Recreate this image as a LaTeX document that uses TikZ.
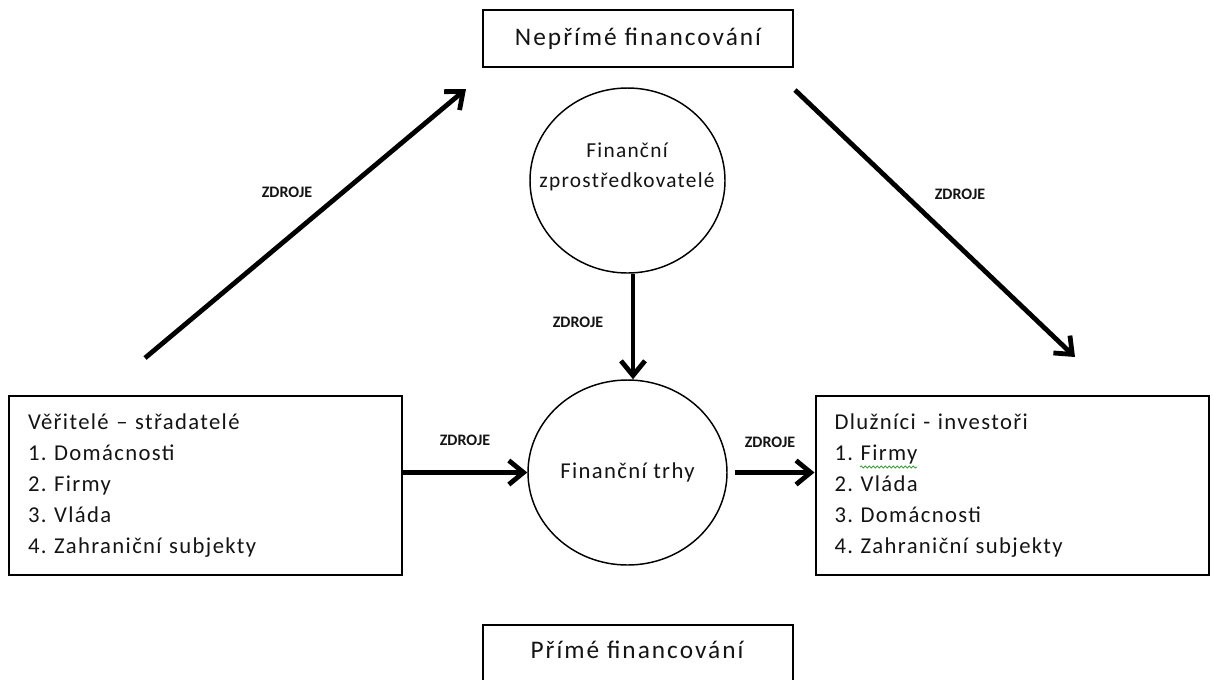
\documentclass[tikz,border=0pt]{standalone}
\usepackage{fontspec}
\setmainfont{Carlito}
\newfontfamily\titlefont[LetterSpace=8]{Carlito}
\newfontfamily\bodyfont[LetterSpace=6]{Carlito}
\usetikzlibrary{arrows.meta,shapes.geometric,decorations.pathmorphing}
\definecolor{txt}{HTML}{141414}
\definecolor{spell}{HTML}{3FA33F}
\frenchspacing
\begin{document}
\begin{tikzpicture}[x=0.75pt,y=-0.75pt,
  titletxt/.style={font=\titlefont\fontsize{19}{23.25}\selectfont, text=txt},
  txtfont/.style={font=\bodyfont\fontsize{17}{23.25}\selectfont, text=txt},
  circtxt/.style={font=\bodyfont\fontsize{16}{22}\selectfont, text=txt},
  labbox/.style={draw=black, line width=1.5pt, rectangle, inner sep=0pt,
     minimum width=232.5pt, minimum height=42.75pt, titletxt},
  listbox/.style={draw=black, line width=1.5pt, rectangle, inner xsep=14.25pt, inner ysep=0pt,
     minimum width=294.75pt, minimum height=134.25pt, text width=266.25pt, align=left, txtfont},
  oval/.style={draw=black, line width=1.1pt, ellipse, inner sep=0pt, minimum height=138.75pt},
  flow/.style={line width=3.6pt, draw=black, -{Straight Barb[length=11pt,width=18pt]}},
  zdroje/.style={font=\fontsize{12}{14}\selectfont\bfseries, text=txt, inner sep=1pt}
]
\useasboundingbox (0,0) rectangle (1213,679);
\clip (0,0) rectangle (1213,679);
\fill[white] (0,0) rectangle (1213,679);

% boxes
\node[labbox] (neprime) at (638,38.5) {Nepřímé financování};
\node[labbox] (prime) at (638,653.5) {};
\node[titletxt, inner sep=0pt] (primetext) at (637,650) {Přímé financování};

\node[listbox] (veritele) at (205.5,485.5) {Věřitelé – střadatelé\\1. Domácnosti\\2. Firmy\\3. Vláda\\4. Zahraniční subjekty};
\node[listbox] (dluznici) at (1012,485.5) {Dlužníci - investoři\\1. Firmy\\2. Vláda\\3. Domácnosti\\4. Zahraniční subjekty};

% circles
\node[oval, minimum width=146.25pt] (zprostr) at (627.5,180.5) {};
\node[circtxt, align=center, inner sep=0pt] (zprostrtext) at (627,167) {Finanční\\zprostředkovatelé};
\node[oval, minimum width=149.25pt, txtfont] (trhy) at (627.5,472.5) {Finanční trhy};

% spell-check squiggle under "Firmy"
\draw[spell, line width=0.6pt, decorate, decoration={snake, amplitude=0.8pt, segment length=3pt}] (860,467) -- (917,467);

% free arrow ends
\coordinate (lstart) at (145,358);
\coordinate (lend) at (466,89);
\coordinate (rstart) at (795,90);
\coordinate (rend) at (1075,357);
\coordinate (hstart) at (735,472.5);
\coordinate (vx) at (633,0);

% arrows
\draw[flow] (lstart) -- (lend);
\draw[flow] (rstart) -- (rend);
\draw[flow] (zprostr.south -| vx) -- (trhy.north -| vx);
\draw[flow] (veritele.east |- trhy.west) -- (trhy.west);
\draw[flow] (hstart) -- (dluznici.west |- hstart);

% labels
\node[zdroje] (z1) at (287,192) {ZDROJE};
\node[zdroje] (z2) at (960,194) {ZDROJE};
\node[zdroje] (z3) at (578,322) {ZDROJE};
\node[zdroje] (z4) at (465,440) {ZDROJE};
\node[zdroje] (z5) at (770,442) {ZDROJE};
\end{tikzpicture}
\end{document}
